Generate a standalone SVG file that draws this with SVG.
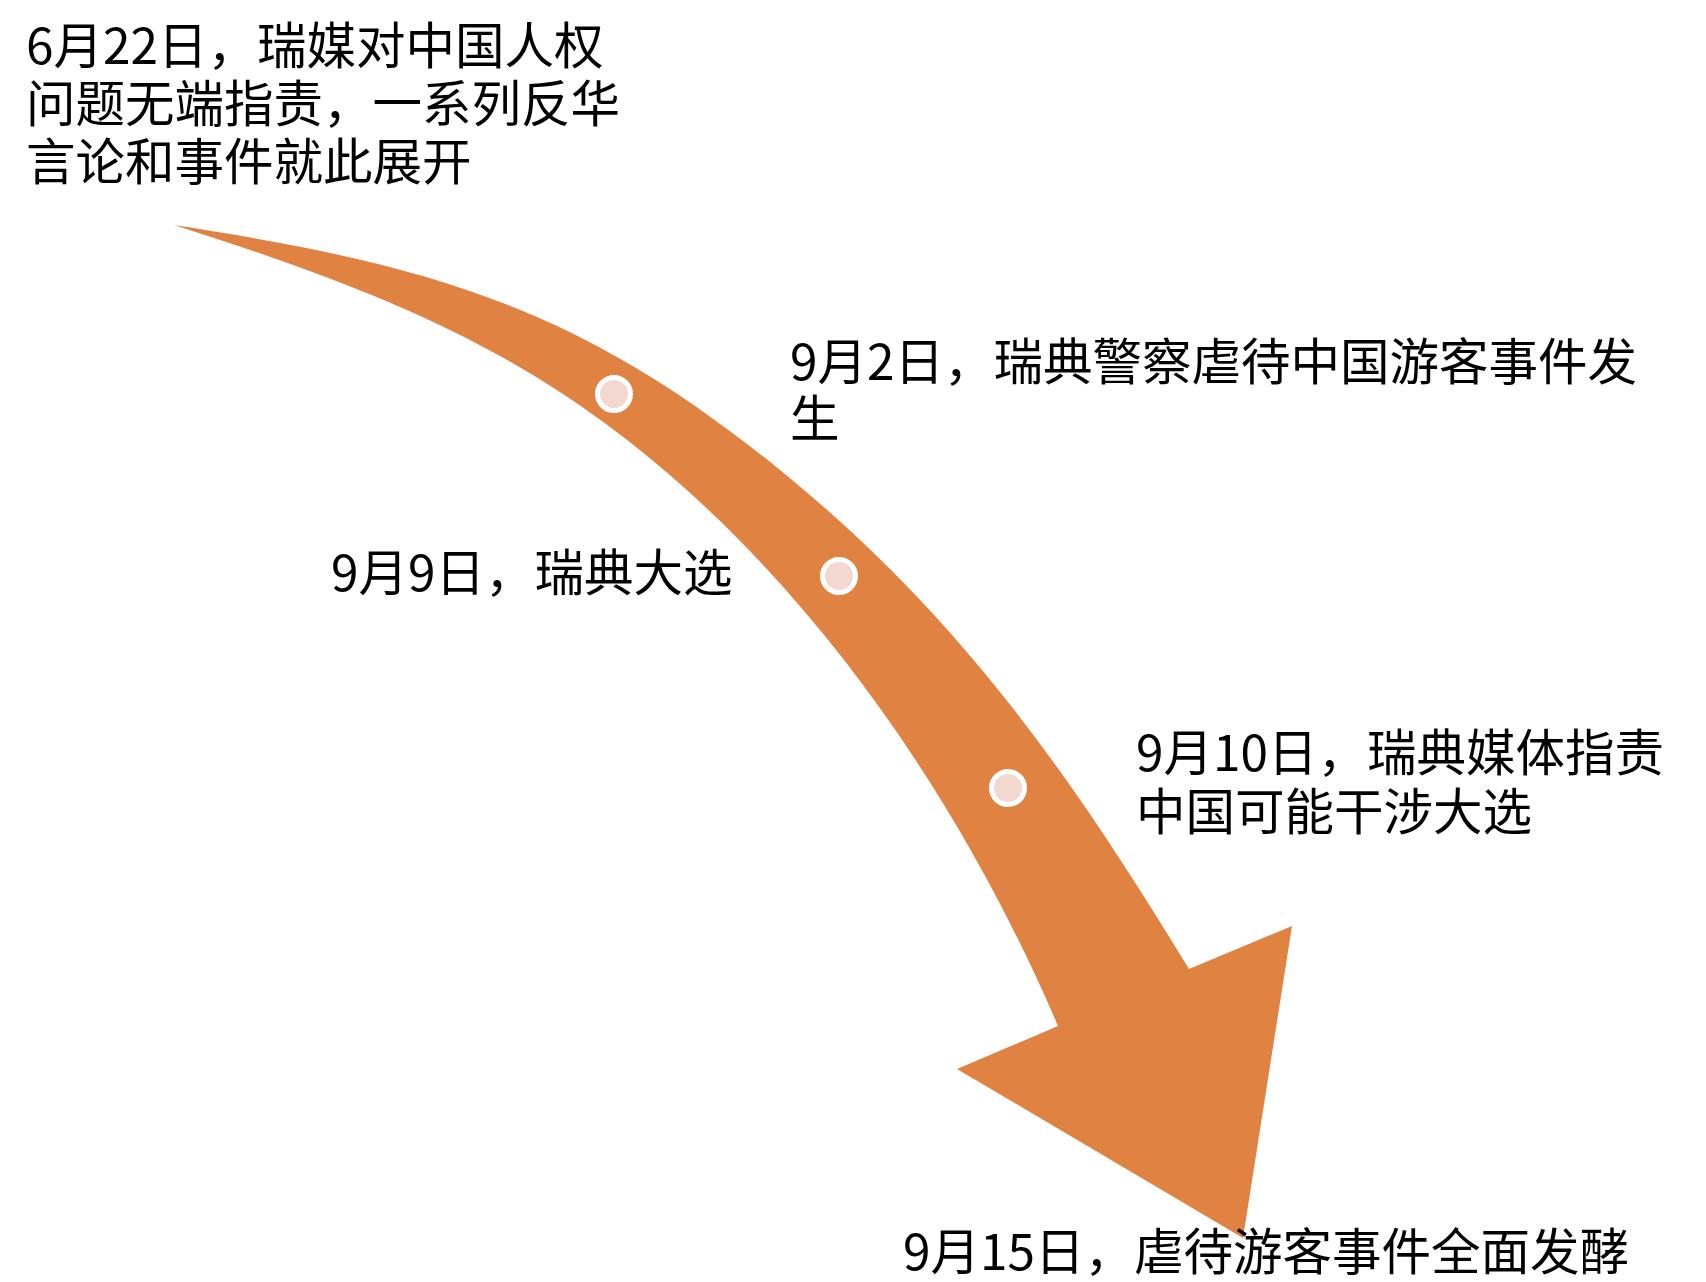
<svg xmlns="http://www.w3.org/2000/svg" width="1706" height="1282" viewBox="0 0 1706 1282">
<style>
.lbl{font-family:"Noto Sans CJK SC","Noto Sans",sans-serif;font-size:49.5px;fill:#000;}
.dot{fill:#F3D8CF;stroke:#FFFFFF;stroke-width:5;}
.arrow{fill:#E08242;stroke:none;}
</style>
<rect width="1706" height="1282" fill="#FFFFFF"/>
<g id="connectors">
<path class="arrow" d="M174,225 C431,265 578,306 780,470 C958.5,615 1069.4,772.6 1189,969 L1292,926 L1243,1238 L957,1069 L1058,1026 C975,832 853.7,645 700,502 C539,352.2 383.4,292.1 174,225 Z"/>
</g>
<g id="marker1"><circle class="dot" cx="614" cy="394" r="16.5"/></g>
<g id="marker2"><circle class="dot" cx="839" cy="576" r="16.5"/></g>
<g id="marker3"><circle class="dot" cx="1008" cy="788" r="16.5"/></g>
<g id="event-0622">
<text class="lbl" x="26" y="64">6月22日，瑞媒对中国人权</text>
<text class="lbl" x="26" y="122">问题无端指责，一系列反华</text>
<text class="lbl" x="26" y="180">言论和事件就此展开</text>
</g>
<g id="event-0902">
<text class="lbl" x="790" y="380">9月2日，瑞典警察虐待中国游客事件发</text>
<text class="lbl" x="790" y="437">生</text>
</g>
<g id="event-0909">
<text class="lbl" x="331" y="591">9月9日，瑞典大选</text>
</g>
<g id="event-0910">
<text class="lbl" x="1136" y="771">9月10日，瑞典媒体指责</text>
<text class="lbl" x="1136" y="830">中国可能干涉大选</text>
</g>
<g id="event-0915">
<text class="lbl" x="903" y="1270">9月15日，虐待游客事件全面发酵</text>
</g>
</svg>
